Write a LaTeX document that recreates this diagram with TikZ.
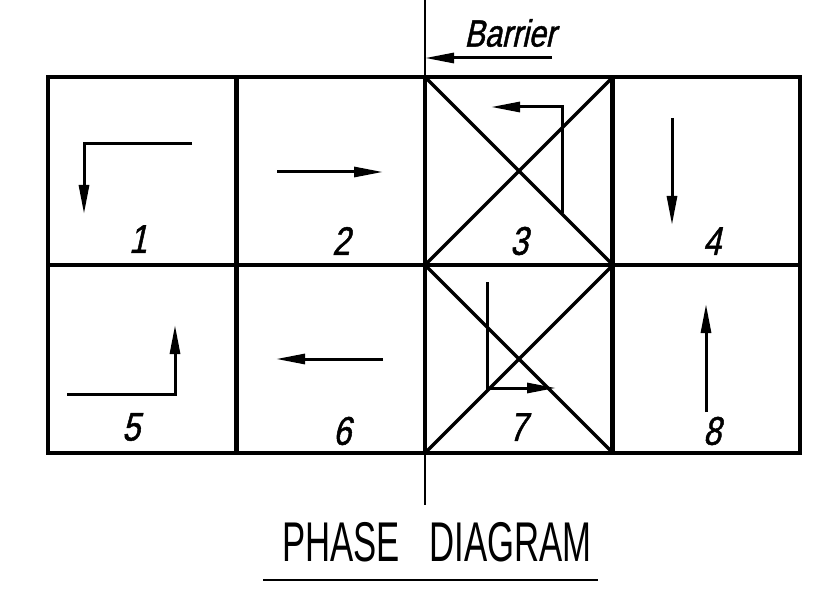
\documentclass[tikz,border=0pt]{standalone}
\usepackage{fontspec}
\setmainfont{Liberation Sans}
\newfontfamily\titlefont[FakeStretch=0.62]{Liberation Sans}
\newfontfamily\numfont[FakeStretch=0.8,FakeSlant=0.22,FakeBold=1.2]{Liberation Sans}
\usetikzlibrary{arrows.meta, positioning, calc}

\begin{document}
\begin{tikzpicture}[
    x=1pt, y=-1pt,
    >={Triangle[length=29pt, width=10pt]},
    cell/.style={draw, line width=3.4pt, minimum size=188pt, inner sep=0pt,
                 outer sep=0pt},
    cross/.style={line width=3.2pt},
    move/.style={->, line width=3pt},
    num/.style={font=\numfont\fontsize{40}{42}\selectfont, inner sep=0pt}
  ]
  \useasboundingbox (0,0) rectangle (831,591);

  % phase cells, two rows of four
  \foreach \i/\cx/\cy in {1/142/171, 2/331/171, 3/519/171, 4/706/171,
                          5/142/359, 6/331/359, 7/519/359, 8/706/359}
    \node[cell] (c\i) at (\cx,\cy) {};

  % blocked phases
  \foreach \i in {3,7} {
    \draw[cross] (c\i.north west) -- (c\i.south east);
    \draw[cross] (c\i.south west) -- (c\i.north east);
  }

  % phase numbers
  \node[num] (n1) at (138,239) {1};
  \node[num] (n2) at (341,241) {2};
  \node[num] (n3) at (519,241) {3};
  \node[num] (n4) at (712,241) {4};
  \node[num] (n5) at (131,427) {5};
  \node[num] (n6) at (342,431) {6};
  \node[num] (n7) at (518,427) {7};
  \node[num] (n8) at (712,431) {8};

  % movements
  \draw[move] (192,144) -- (84,144) -- (84,214);
  \draw[move] (277,172) -- (383,172);
  \draw[move] (562,213) -- (562,107) -- (491,107);
  \draw[move] (672,118) -- (672,225);
  \draw[move] (67,394) -- (175,394) -- (175,325);
  \draw[move] (383,359) -- (276,359);
  \draw[move] (487,282) -- (487,388) -- (556,388);
  \draw[move] (706,412) -- (706,304);

  % barrier
  \coordinate (btop) at (425,0);
  \coordinate (bbot) at (425,505);
  \draw[line width=2.2pt] (btop) -- (bbot);
  \node[font=\numfont\fontsize{38}{40}\selectfont, inner sep=0pt]
    (barrier) at (510,33) {Barrier};
  \coordinate (bfrom) at (552,58);
  \draw[move] (bfrom) -- (bfrom -| btop);

  % title
  \node[font=\titlefont\fontsize{56}{60}\selectfont, inner sep=0pt]
    (title) at (437,542) {PHASE\hspace{30pt}DIAGRAM};
  \coordinate (ul) at (263,580);
  \draw[line width=2.8pt] (ul) -- ++(335,0);
\end{tikzpicture}
\end{document}
